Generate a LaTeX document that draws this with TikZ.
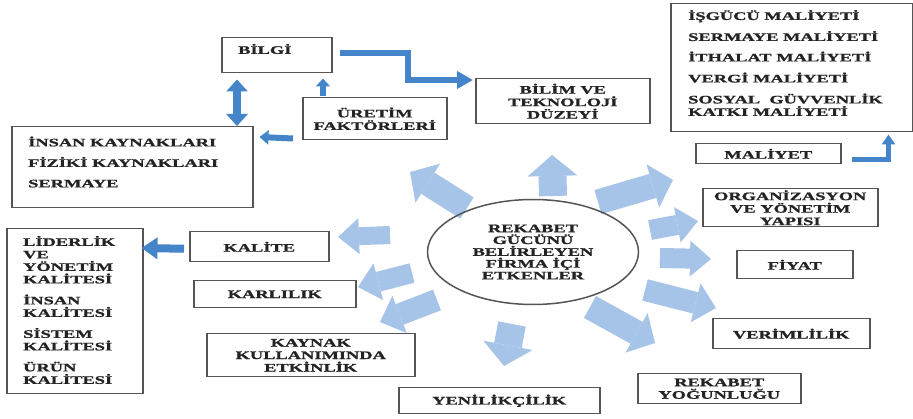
\documentclass[tikz,border=0pt]{standalone}
\usepackage{fontspec}
\setmainfont{Liberation Serif}[FakeStretch=1.6, BoldFeatures={FakeBold=1.2}]
\usetikzlibrary{arrows.meta,shapes.geometric,calc}
\definecolor{darkblue}{RGB}{68,132,200}
\definecolor{lightblue}{RGB}{166,196,231}
\definecolor{boxline}{RGB}{85,85,85}
\definecolor{txtcol}{RGB}{35,35,35}
\newcommand\figfont{\bfseries\fontsize{11.5}{12.5}\selectfont}
\begin{document}
\begin{tikzpicture}[x=1pt,y=-1pt,
  txt/.style={text=txtcol, font=\figfont, inner sep=0pt},
  box/.style={txt, draw=boxline, line width=1.5pt, anchor=north west, align=center},
  fat/.style 2 args={draw=lightblue, line width=#1, -{Triangle[length=21pt 0, width=#2 0, line width=0pt]}},
  dark/.style={draw=darkblue, line width=#1, line join=miter},
]
\fill[white] (0,0) rectangle (913,419);
\useasboundingbox (0,0) rectangle (913,419);

% light radiating arrows
\draw[fat={25pt}{46pt}] (467,208) -- (410,172);
\draw[fat={28pt}{50pt}] (553,196) -- (552,155);
\draw[fat={25pt}{45pt}] (598,202) -- (673,180);
\draw[fat={20pt}{36pt}] (650,230) -- (698,221);
\draw[fat={20pt}{36pt}] (660,258) -- (711,259);
\draw[fat={22pt}{40pt}] (645,290) -- (716,308);
\draw[fat={25pt}{45pt}] (590,307) -- (655,343);
\draw[fat={28pt}{50pt}] (512,324) -- (504,366);
\draw[fat={22pt}{40pt}] (437,300) -- (380,322);
\draw[fat={20pt}{38pt}] (412,273) -- (358,287);
\draw[fat={18pt}{36pt}] (390,235) -- (338,237);

% centre ellipse
\node[txt, draw=boxline, line width=1.5pt, ellipse, minimum width=211pt, minimum height=105pt,
      align=center, font=\bfseries\fontsize{11.5}{11.8}\selectfont] (core) at (533,252)
  {REKABET\\GÜCÜNÜ\\BELİRLEYEN\\FİRMA İÇİ\\ETKENLER};

% boxes
\node[box, minimum width=110pt, minimum height=35pt] (bilgi) at (221,37) {};
\node[txt, anchor=west] (bilgitxt) at (238,49) {BİLGİ};
\node[box, minimum width=144pt, minimum height=42pt] (uretim) at (302,97) {ÜRETİM\\FAKTÖRLERİ};
\node[box, minimum width=241pt, minimum height=81pt] (insan) at (11,126) {};
\node[txt, anchor=west, align=left] (insantxt) at (28,162)
  {İNSAN KAYNAKLARI\\[8pt]FİZİKİ KAYNAKLARI\\[8pt]SERMAYE};
\node[box, minimum width=174pt, minimum height=45pt] (bilim) at (475,78) {BİLİM VE\\TEKNOLOJİ\\DÜZEYİ};
\node[box, minimum width=242pt, minimum height=128pt] (maliyetlist) at (670,3) {};
\node[txt, anchor=west, align=left] (maliyettxt) at (688,63)
  {İŞGÜCÜ MALİYETİ\\[8.5pt]SERMAYE MALİYETİ\\[8pt]İTHALAT MALİYETİ\\[8.5pt]VERGİ MALİYETİ\\[8.5pt]SOSYAL~~GÜVVENLİK\\KATKI MALİYETİ};
\node[box, minimum width=145pt, minimum height=20pt] (maliyet) at (695,143) {MALİYET};
\node[box, minimum width=175pt, minimum height=38pt] (org) at (702,188) {ORGANİZASYON\\VE YÖNETİM\\YAPISI};
\node[box, minimum width=116pt, minimum height=28pt] (fiyat) at (736,250) {FİYAT};
\node[box, minimum width=157pt, minimum height=30pt] (verim) at (712,318) {VERİMLİLİK};
\node[box, minimum width=163pt, minimum height=30pt] (rekyog) at (637,373) {REKABET\\YOĞUNLUĞU};
\node[box, minimum width=201pt, minimum height=26pt] (yenilik) at (398,387) {YENİLİKÇİLİK};
\node[box, minimum width=208pt, minimum height=43pt] (kaynak) at (206,333) {KAYNAK\\KULLANIMINDA\\ETKİNLİK};
\node[box, minimum width=162pt, minimum height=27pt] (karlilik) at (193,280) {KARLILIK};
\node[box, minimum width=139pt, minimum height=30pt] (kalite) at (189,231) {KALİTE};
\node[box, minimum width=136pt, minimum height=165pt] (liderlik) at (6,228) {};
\node[txt, anchor=west, align=left] (lidertxt) at (23,310)
  {LİDERLİK\\VE\\YÖNETİM\\KALİTESİ\\[8.5pt]İNSAN\\KALİTESİ\\[8.5pt]SİSTEM\\KALİTESİ\\[8.5pt]ÜRÜN\\KALİTESİ};

% dark blue connectors
\draw[dark=5.5pt, -{Triangle[length=16pt 0, width=17pt 0]}]
  ($(bilgi.east)+(7,-2)$) -| (408,80) -- ($(bilim.north west)+(-2,2)$);
\draw[dark=5pt, -{Triangle[length=10pt 0, width=13pt 0]}]
  ($(maliyet.east)+(10,6)$) -| ($(maliyetlist.south east)+(-25,2)$);
\draw[dark=8pt, {Triangle[length=12pt 0, width=21pt 0]}-{Triangle[length=12pt 0, width=21pt 0]}]
  ($(bilgi.south west)+(16,6)$) -- ($(insan.north west)+(226,0)$);
\draw[dark=6pt, -{Triangle[length=8pt 0, width=14pt 0]}]
  ($(uretim.north west)+(21,-1)$) -- ($(bilgi.south west)+(102,5)$);
\draw[dark=6pt, -{Triangle[length=9pt 0, width=14pt 0]}]
  ($(uretim.south west)+(-9,-2)$) -- ($(insan.north east)+(6,11)$);
\draw[dark=8pt, -{Triangle[length=16pt 0, width=21pt 0]}]
  ($(kalite.west)+(-5,2)$) -- ($(liderlik.north east)+(-2,20)$);
\end{tikzpicture}
\end{document}
